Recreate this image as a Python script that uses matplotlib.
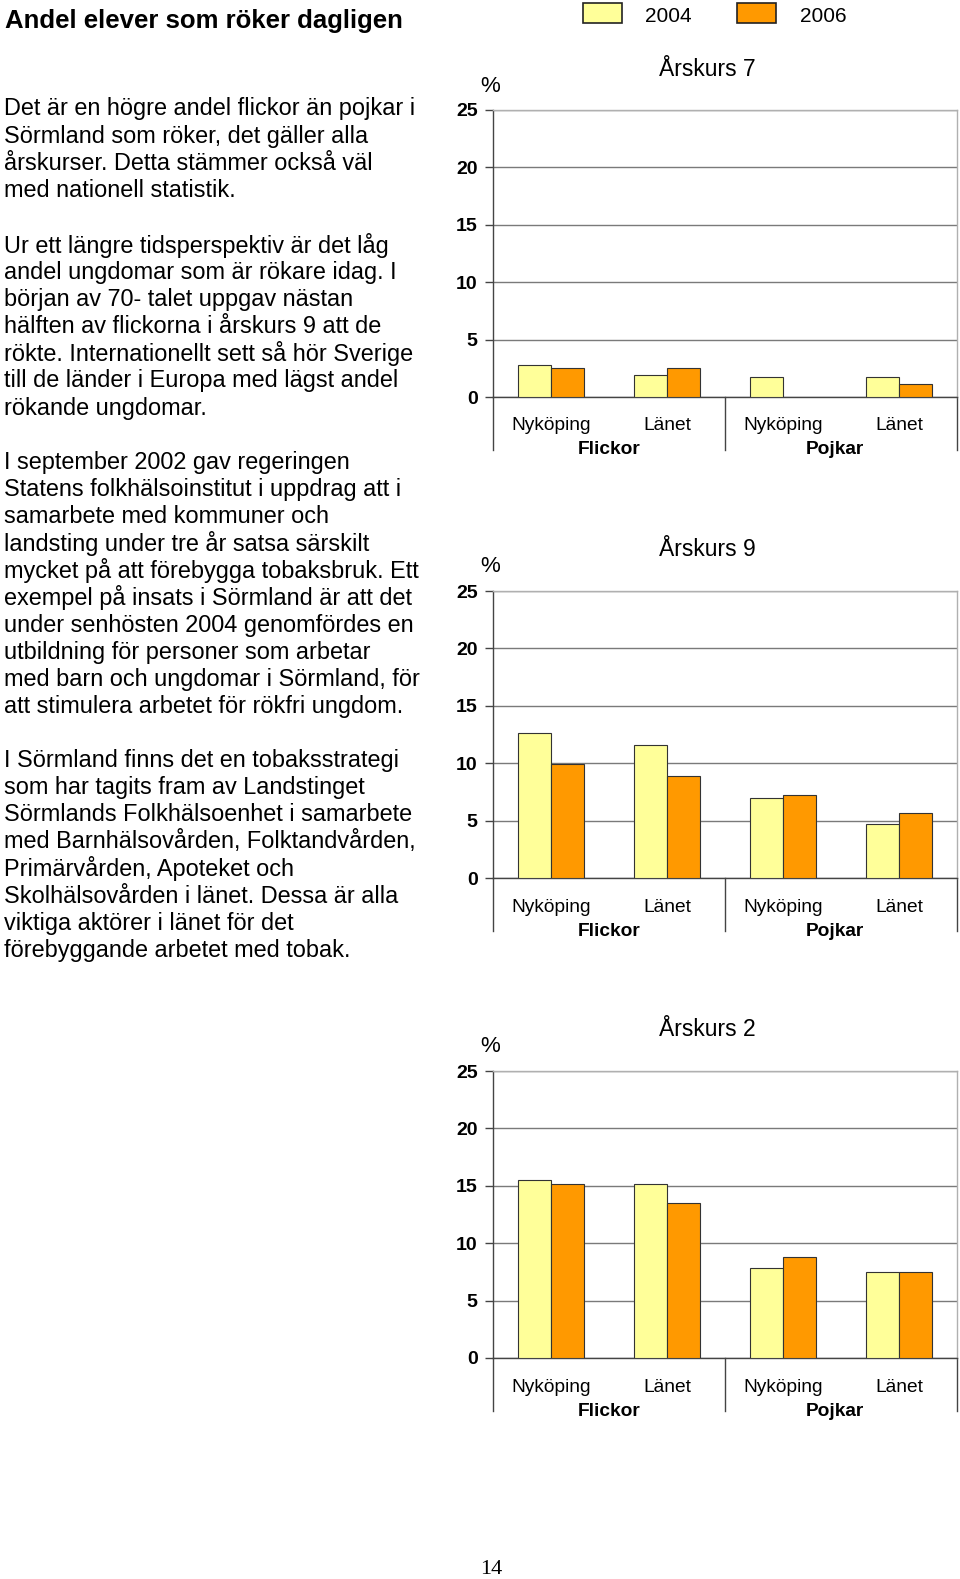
import matplotlib
matplotlib.use("Agg")
from matplotlib import pyplot as plt
from matplotlib.transforms import blended_transform_factory

plt.rcParams['font.family'] = ['Liberation Sans', 'DejaVu Sans']

# data
categories = ["Nyköping", "Länet", "Nyköping", "Länet"]
groups = ["Flickor", "Pojkar"]
years = ["2004", "2006"]

ak7_2004 = [2.8, 1.9, 1.7, 1.7]
ak7_2006 = [2.5, 2.5, None, 1.1]
ak9_2004 = [12.6, 11.6, 7.0, 4.7]
ak9_2006 = [9.9, 8.9, 7.2, 5.7]
ak2_2004 = [15.5, 15.2, 7.8, 7.5]
ak2_2006 = [15.2, 13.5, 8.8, 7.5]

yticks = [0, 5, 10, 15, 20, 25]

heading = "Andel elever som röker dagligen"
paragraphs = [
    ["Det är en högre andel flickor än pojkar i",
     "Sörmland som röker, det gäller alla",
     "årskurser. Detta stämmer också väl",
     "med nationell statistik."],
    ["Ur ett längre tidsperspektiv är det låg",
     "andel ungdomar som är rökare idag. I",
     "början av 70- talet uppgav nästan",
     "hälften av flickorna i årskurs 9 att de",
     "rökte. Internationellt sett så hör Sverige",
     "till de länder i Europa med lägst andel",
     "rökande ungdomar."],
    ["I september 2002 gav regeringen",
     "Statens folkhälsoinstitut i uppdrag att i",
     "samarbete med kommuner och",
     "landsting under tre år satsa särskilt",
     "mycket på att förebygga tobaksbruk. Ett",
     "exempel på insats i Sörmland är att det",
     "under senhösten 2004 genomfördes en",
     "utbildning för personer som arbetar",
     "med barn och ungdomar i Sörmland, för",
     "att stimulera arbetet för rökfri ungdom."],
    ["I Sörmland finns det en tobaksstrategi",
     "som har tagits fram av Landstinget",
     "Sörmlands Folkhälsoenhet i samarbete",
     "med Barnhälsovården, Folktandvården,",
     "Primärvården, Apoteket och",
     "Skolhälsovården i länet. Dessa är alla",
     "viktiga aktörer i länet för det",
     "förebyggande arbetet med tobak."],
]
para_top = [109, 245, 462, 760]

YELLOW = "#FFFF99"
ORANGE = "#FF9900"
W, H = 960, 1579


def draw_chart(top, title, v2004, v2006):
    left, right, bottom = 493, 957, top + 287
    ax = fig.add_axes([left / W, 1 - bottom / H, (right - left) / W, 287 / H])
    x = list(range(len(categories)))
    bw = 0.287
    ax.bar([i - bw / 2 for i in x], [v if v is not None else 0 for v in v2004],
           bw, color=YELLOW, edgecolor="#333333", linewidth=0.8, zorder=3)
    xs = [i + bw / 2 for i, v in zip(x, v2006) if v is not None]
    vs = [v for v in v2006 if v is not None]
    ax.bar(xs, vs, bw, color=ORANGE, edgecolor="#333333", linewidth=0.8, zorder=3)
    ax.set_xlim(-0.5, 3.5)
    ax.set_ylim(0, 25)
    ax.set_yticks(yticks)
    ax.set_yticklabels([str(t) for t in yticks], fontsize=14, fontweight="bold")
    ax.tick_params(axis="y", length=6, width=1, color="#444444", pad=5)
    ax.set_xticks([])
    ax.grid(axis="y", color="#7a7a7a", linewidth=1, zorder=0)
    for s in ["top", "right"]:
        ax.spines[s].set_color("#b0b0b0")
        ax.spines[s].set_linewidth(1)
    for s in ["left", "bottom"]:
        ax.spines[s].set_color("#444444")
        ax.spines[s].set_linewidth(1)
    # category axis separators
    depth = -53 / 287
    for xa in [0, 0.5, 1]:
        ax.plot([xa, xa], [0, depth], transform=ax.transAxes, color="#444444",
                linewidth=1, clip_on=False)
    tr = blended_transform_factory(ax.transData, ax.transAxes)
    for i, c in enumerate(categories):
        ax.text(i, -29 / 287, c, transform=tr, ha="center", va="center",
                fontsize=13.8)
    for g, gx in zip(groups, [0.5, 2.45]):
        ax.text(gx, -53 / 287, g, transform=tr, ha="center", va="center",
                fontsize=13.8, fontweight="bold")
    fig.text(707 / W, 1 - (top - 41) / H, title, ha="center", va="center",
             fontsize=16.5)
    fig.text(490 / W, 1 - (top - 24) / H, "%", ha="center", va="center",
             fontsize=16)
    return ax


fig = plt.figure(figsize=(W / 100, H / 100), dpi=100)

fig.text(5 / W, 1 - 21 / H, heading, ha="left", va="center", fontsize=18.5,
         fontweight="bold")
for lines, y0 in zip(paragraphs, para_top):
    for k, line in enumerate(lines):
        fig.text(4 / W, 1 - (y0 + k * 27.2) / H, line, ha="left", va="center",
                 fontsize=16.9)

# legend
for (x0, col, lab, tx) in [(583, YELLOW, years[0], 668), (737, ORANGE, years[1], 823)]:
    fig.patches.append(plt.Rectangle((x0 / W, 1 - 23 / H), 39 / W, 20 / H,
                                     transform=fig.transFigure, facecolor=col,
                                     edgecolor="#222222", linewidth=1.2))
    fig.text(tx / W, 1 - 17 / H, lab, ha="center", va="center", fontsize=15)

draw_chart(110, "Årskurs 7", ak7_2004, ak7_2006)
draw_chart(591, "Årskurs 9", ak9_2004, ak9_2006)
draw_chart(1071, "Årskurs 2", ak2_2004, ak2_2006)

fig.text(491 / W, 1 - 1569 / H, "14", ha="center", va="center", fontsize=16,
         family=["Liberation Serif", "DejaVu Serif"])

fig.savefig("out.png", dpi=100)
